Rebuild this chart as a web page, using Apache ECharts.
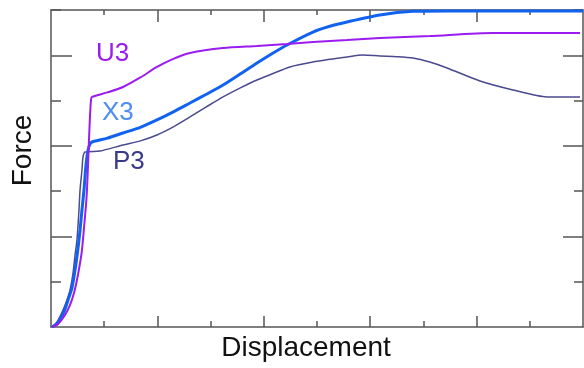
<!DOCTYPE html>
<html>
<head>
<meta charset="utf-8">
<script src="https://cdn.jsdelivr.net/npm/echarts@6/dist/echarts.min.js"></script>
<style>
  html, body { margin: 0; padding: 0; background: #fff; }
  #chart { width: 584px; height: 368px; }
</style>
</head>
<body>
<div id="chart"></div>
<script>
// curves (displacement, force), arbitrary units
const x3_x = [0.009, 0.066, 0.122, 0.16, 0.197, 0.226, 0.254, 0.273, 0.291, 0.31, 0.329, 0.348, 0.367, 0.385, 0.53, 0.677, 0.84, 0.996, 1.15, 1.306, 1.46, 1.617, 1.78, 1.936, 2.08, 2.218, 2.462, 2.62, 2.782, 3.092, 3.402, 3.722, 5.0];
const x3_y = [0, 0.044, 0.166, 0.298, 0.431, 0.629, 0.872, 1.071, 1.292, 1.513, 1.789, 1.954, 2.021, 2.043, 2.085, 2.142, 2.205, 2.286, 2.375, 2.473, 2.57, 2.672, 2.795, 2.915, 3.02, 3.114, 3.257, 3.32, 3.368, 3.445, 3.485, 3.49, 3.49];

const u3_x = [0.009, 0.066, 0.132, 0.179, 0.216, 0.244, 0.273, 0.291, 0.31, 0.329, 0.338, 0.348, 0.357, 0.367, 0.376, 0.385, 0.53, 0.677, 0.84, 0.996, 1.15, 1.306, 1.617, 1.936, 2.218, 2.462, 2.782, 3.092, 3.562, 4.154, 4.972];
const u3_y = [0, 0.033, 0.132, 0.243, 0.375, 0.519, 0.707, 0.85, 1.093, 1.347, 1.513, 1.789, 2.065, 2.341, 2.506, 2.54, 2.59, 2.65, 2.755, 2.871, 2.96, 3.025, 3.08, 3.103, 3.125, 3.147, 3.169, 3.191, 3.213, 3.246, 3.246];

const p3_x = [0.009, 0.056, 0.113, 0.15, 0.179, 0.207, 0.226, 0.244, 0.263, 0.273, 0.291, 0.301, 0.32, 0.46, 0.677, 0.84, 0.996, 1.15, 1.306, 1.46, 1.617, 1.78, 1.936, 2.246, 2.462, 2.782, 2.932, 3.092, 3.25, 3.402, 3.56, 3.722, 4.032, 4.342, 4.662, 4.972];
const p3_y = [0, 0.055, 0.188, 0.298, 0.409, 0.596, 0.795, 0.961, 1.292, 1.513, 1.733, 1.877, 1.932, 1.943, 2.01, 2.055, 2.12, 2.21, 2.319, 2.43, 2.54, 2.64, 2.727, 2.871, 2.926, 2.981, 3.003, 2.992, 2.985, 2.97, 2.925, 2.86, 2.716, 2.617, 2.54, 2.54];

const x_major = [1, 2, 3, 4];
const x_minor = [0.5, 1.5, 2.5, 3.5, 4.5];
const y_major = [1, 2, 3];
const y_minor = [0.5, 1.5, 2.5, 3.5];

const font = "'Liberation Sans', Arial, sans-serif";
const axis_color = "#555";

function pairs(xs, ys) {
  return xs.map((x, i) => [x, ys[i]]);
}

function axis(opts) {
  const { position, min, max, ticks, length, line } = opts;
  return Object.assign({
    type: "value",
    position,
    min,
    max,
    axisLine: { show: line, onZero: false, lineStyle: { color: axis_color, width: 1.5 } },
    axisTick: { show: true, inside: true, length, customValues: ticks, lineStyle: { color: axis_color, width: 1.5 } },
    axisLabel: { show: false },
    splitLine: { show: false }
  }, opts.extra || {});
}

const line_base = { type: "line", showSymbol: false, smooth: 0.25 };

const chart = echarts.init(document.getElementById("chart"));
chart.setOption({
  animation: false,
  grid: { left: 51, right: 1, top: 10, bottom: 41, outerBoundsMode: "none" },
  xAxis: [
    axis({ position: "bottom", min: 0, max: 5, ticks: x_major, length: 11, line: true, extra: {
      name: "Displacement",
      nameLocation: "middle",
      nameGap: 7,
      nameTextStyle: { fontFamily: font, fontSize: 28, color: "#111", padding: [0, 22, 0, 0] }
    } }),
    axis({ position: "bottom", min: 0, max: 5, ticks: x_minor, length: 6, line: false }),
    axis({ position: "top", min: 0, max: 5, ticks: x_major, length: 12, line: true }),
    axis({ position: "top", min: 0, max: 5, ticks: x_minor, length: 5, line: false })
  ],
  yAxis: [
    axis({ position: "left", min: 0, max: 3.5, ticks: y_major, length: 21, line: true, extra: {
      name: "Force",
      nameLocation: "middle",
      nameGap: 14,
      nameTextStyle: { fontFamily: font, fontSize: 28, color: "#111", padding: [0, 0, 0, 36] }
    } }),
    axis({ position: "left", min: 0, max: 3.5, ticks: y_minor, length: 10, line: false }),
    axis({ position: "right", min: 0, max: 3.5, ticks: y_major, length: 20, line: true }),
    axis({ position: "right", min: 0, max: 3.5, ticks: y_minor, length: 9, line: false })
  ],
  graphic: [
    { type: "text", left: 96, top: 41, style: { text: "U3", fontFamily: font, fontSize: 26, fill: "#9a1cf0" } },
    { type: "text", left: 102, top: 100, style: { text: "X3", fontFamily: font, fontSize: 26, fill: "#4d8ef0" } },
    { type: "text", left: 113, top: 149, style: { text: "P3", fontFamily: font, fontSize: 26, fill: "#3a3a8c" } }
  ],
  series: [
    Object.assign({ name: "P3", data: pairs(p3_x, p3_y), lineStyle: { color: "#4a4a90", width: 1.5 } }, line_base),
    Object.assign({ name: "X3", data: pairs(x3_x, x3_y), lineStyle: { color: "#1262f0", width: 3 } }, line_base),
    Object.assign({ name: "U3", data: pairs(u3_x, u3_y), lineStyle: { color: "#9a1cf0", width: 2 } }, line_base)
  ]
});
</script>
</body>
</html>
